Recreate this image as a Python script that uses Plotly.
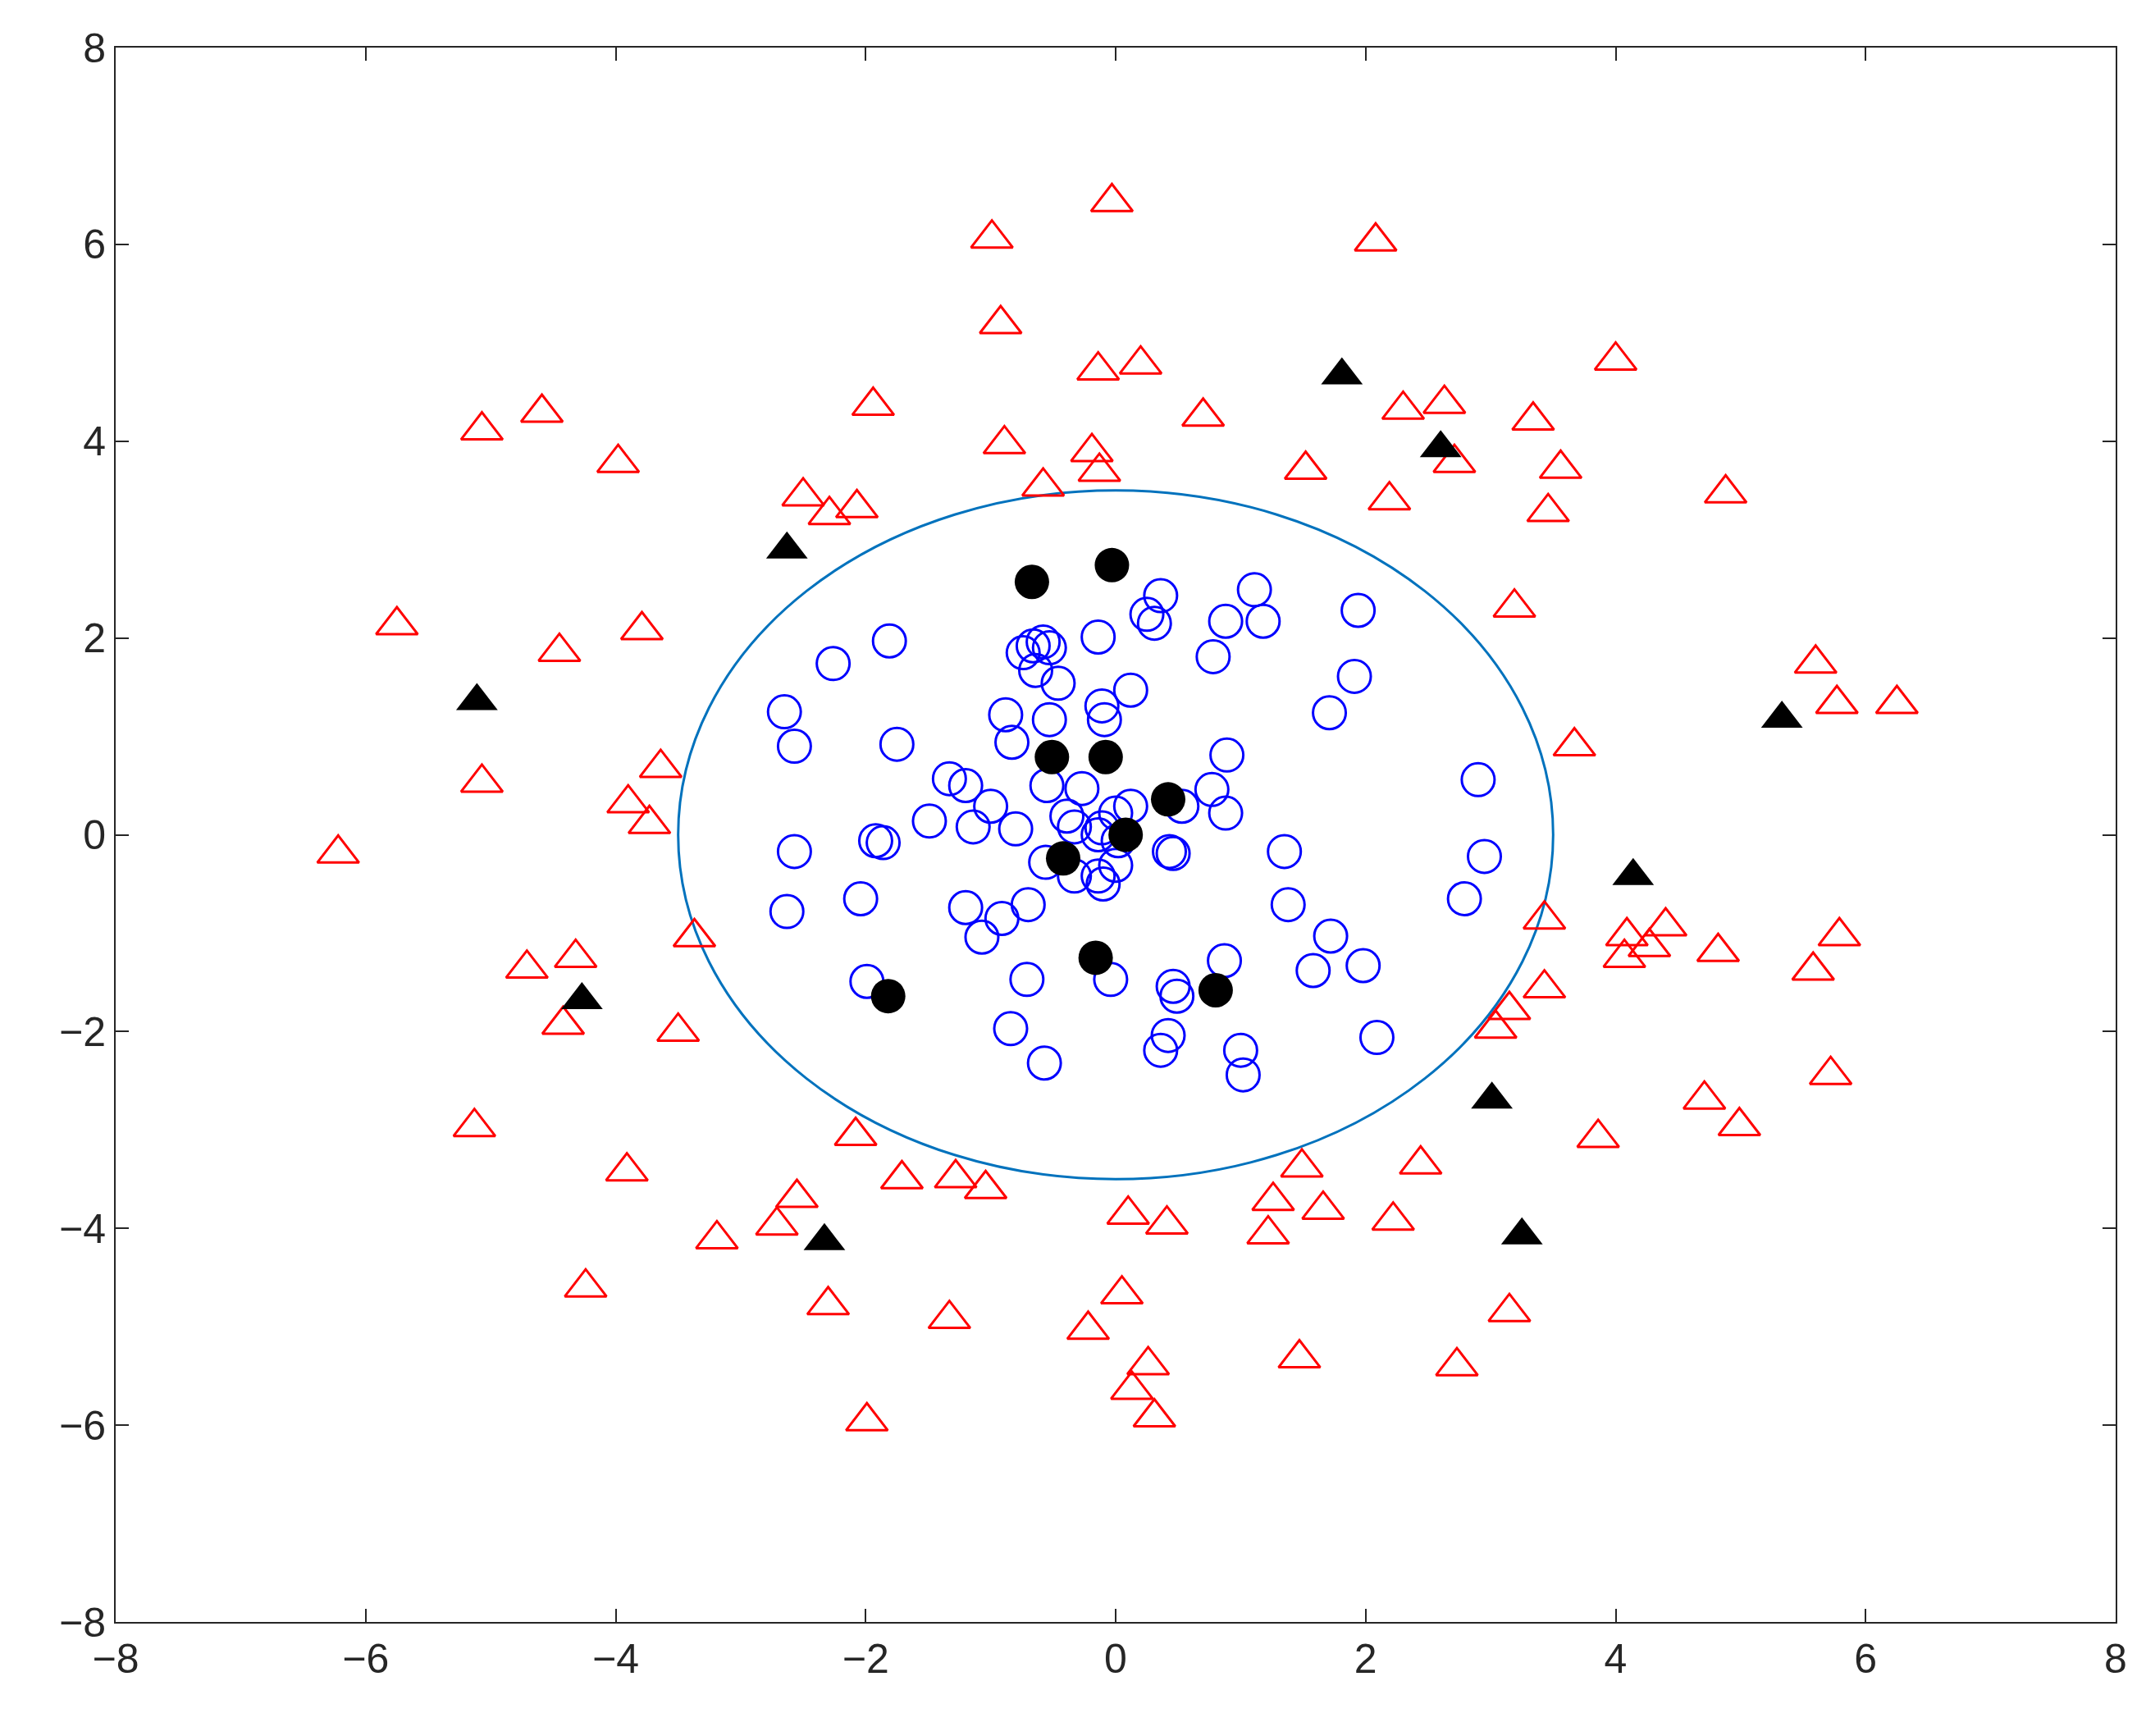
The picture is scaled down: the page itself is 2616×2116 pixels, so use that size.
import plotly.graph_objects as go

# red open triangles
red_x = [-0.03, -0.99, 2.08, -0.92, -0.14, 0.20, 4.00, -5.07, -4.59, -1.94, 0.70, 2.30, 2.63, 3.34,
         -0.89, -3.98, -0.19, -0.13, 1.52, 3.56, 2.71, -2.50, -2.29, -2.07, -0.58, 2.19, 4.88, 3.46,
         -5.75, -3.79, 3.19, -4.45, 5.60, 5.77, 6.25, 3.67, -3.64, -5.07, -3.90, -3.73, -6.22, -3.37,
         3.43, 4.40, 4.09, 4.27, 4.07, 5.79, -4.32, 4.82, -4.71, 5.58, -4.42, 3.15, 3.43, 3.04, -3.50,
         5.72, -5.13, 4.71, 4.99, -2.08, 3.86, -3.91, 1.49, 2.44, -1.71, -1.28, -1.04, -2.55, 1.26,
         1.66, 0.10, 0.41, 2.22, -2.71, -3.19, 1.22, -4.24, -2.30, 0.05, -1.33, 3.15, -0.22, 1.47,
         0.26, 2.73, 0.13, 0.31, -1.99]
red_y = [6.43, 6.06, 6.03, 5.19, 4.72, 4.78, 4.82, 4.11, 4.29, 4.36, 4.25, 4.32, 4.38, 4.21,
         3.97, 3.78, 3.89, 3.69, 3.71, 3.72, 3.78, 3.44, 3.25, 3.32, 3.54, 3.40, 3.47, 3.28,
         2.13, 2.08, 2.31, 1.86, 1.74, 1.33, 1.33, 0.90, 0.68, 0.53, 0.32, 0.11, -0.19, -1.04,
         -0.86, -0.93, -1.03, -1.14, -1.25, -1.03, -1.25, -1.19, -1.36, -1.38, -1.93, -1.78, -1.56, -1.97, -2.00,
         -2.44, -2.97, -2.69, -2.96, -3.06, -3.08, -3.42, -3.38, -3.35, -3.50, -3.49, -3.60, -3.69, -3.72,
         -3.81, -3.86, -3.96, -3.92, -3.97, -4.11, -4.06, -4.60, -4.78, -4.67, -4.92, -4.85, -5.03, -5.32,
         -5.39, -5.40, -5.64, -5.92, -5.96]

# blue open circles
blue_x = [0.36, 1.11, 1.94, 0.25, 0.31, 0.88, 1.18, -0.14, -1.81, -2.26, -0.66, -0.58, -0.53, -0.74,
          -0.64, -0.46, 0.78, 1.91, 0.12, -2.65, 1.71, -0.11, -0.88, -0.53, -0.09, -2.57, -1.75, -0.83,
          0.89, 2.90, -1.33, -1.20, 0.77, -0.55, -0.27, -1.00, 0.12, 0.00, 0.53, 0.88, -1.49, -1.14,
          -0.80, -0.11, -0.39, -0.33, -0.14, 0.02, -1.86, -1.92, -2.57, 0.43, 0.46, 1.35, 2.95, -0.56,
          -0.33, -0.14, -0.10, 0.00, -2.04, -2.63, -1.20, 1.38, -0.70, -0.91, -1.07, 1.72, 0.87, 1.58,
          1.98, -1.99, -0.71, -0.04, 0.46, 0.49, -0.84, 0.42, 2.79, 2.09, 0.36, 1.00, -0.57, 1.02]
blue_y = [2.43, 2.49, 2.28, 2.24, 2.15, 2.17, 2.17, 2.01, 1.97, 1.74, 1.92, 1.96, 1.90, 1.85,
          1.67, 1.54, 1.81, 1.61, 1.47, 1.25, 1.24, 1.31, 1.22, 1.17, 1.17, 0.90, 0.92, 0.94,
          0.81, 0.56, 0.57, 0.50, 0.46, 0.50, 0.47, 0.29, 0.29, 0.22, 0.29, 0.22, 0.14, 0.08,
          0.06, 0.07, 0.19, 0.08, 0.00, -0.06, -0.08, -0.06, -0.17, -0.17, -0.19, -0.17, -0.22, -0.28,
          -0.42, -0.42, -0.50, -0.31, -0.65, -0.78, -0.74, -0.71, -0.71, -0.85, -1.04, -1.03, -1.28, -1.38,
          -1.33, -1.49, -1.47, -1.47, -1.54, -1.64, -1.97, -2.04, -0.65, -2.06, -2.19, -2.19, -2.32, -2.44]

# black filled triangles
ktri_x = [1.81, 2.60, -2.63, -5.11, 5.33, 4.14, -4.27, 3.01, -2.33, 3.25]
ktri_y = [4.67, 3.93, 2.90, 1.36, 1.18, -0.42, -1.68, -2.69, -4.13, -4.07]

# black filled circles
kcir_x = [-0.67, -0.03, -0.51, -0.08, 0.42, 0.08, -0.42, -0.16, 0.80, -1.82]
kcir_y = [2.57, 2.74, 0.79, 0.79, 0.36, 0.00, -0.24, -1.25, -1.58, -1.64]

radius = 3.5
ticks = [-8, -6, -4, -2, 0, 2, 4, 6, 8]

fig = go.Figure()
fig.add_trace(go.Scatter(x=red_x, y=red_y, mode="markers",
                         marker=dict(symbol="triangle-up-open", size=44, color="red", line=dict(width=3))))
fig.add_trace(go.Scatter(x=blue_x, y=blue_y, mode="markers",
                         marker=dict(symbol="circle-open", size=40, color="blue", line=dict(width=3))))
fig.add_trace(go.Scatter(x=ktri_x, y=ktri_y, mode="markers",
                         marker=dict(symbol="triangle-up", size=44, color="black")))
fig.add_trace(go.Scatter(x=kcir_x, y=kcir_y, mode="markers",
                         marker=dict(symbol="circle", size=42, color="black")))
fig.add_shape(type="circle", xref="x", yref="y", x0=-radius, y0=-radius, x1=radius, y1=radius,
              line=dict(color="#0072BD", width=3), layer="below")

axis = dict(range=[-8, 8], tickvals=ticks, showgrid=False, zeroline=False, showline=True,
            linecolor="#262626", linewidth=2, mirror="ticks", ticks="inside", ticklen=16,
            tickwidth=2, tickcolor="#262626", tickfont=dict(size=50, color="#262626"))
fig.update_layout(width=2616, height=2116, plot_bgcolor="white", paper_bgcolor="white",
                  showlegend=False, font=dict(family="Liberation Sans, Arial"),
                  margin=dict(l=133, r=45, t=50, b=147),
                  xaxis=axis, yaxis=axis)
fig.write_html("out.html")
